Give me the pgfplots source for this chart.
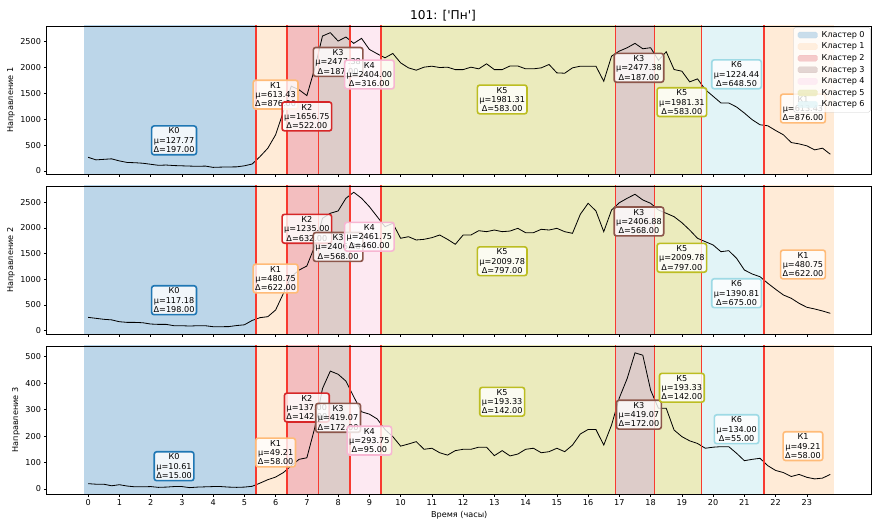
\documentclass[border=0pt]{standalone}
\usepackage{fontspec}
\setmainfont{DejaVu Sans}
\usepackage{pgfplots}
\usepackage{pgfplotstable}
\pgfplotsset{compat=1.18}
\definecolor{c0}{HTML}{1F77B4}
\definecolor{c1}{HTML}{FFBB78}
\definecolor{c2}{HTML}{D62728}
\definecolor{c3}{HTML}{8C564B}
\definecolor{c4}{HTML}{F7B6D2}
\definecolor{c5}{HTML}{BCBD22}
\definecolor{c6}{HTML}{9EDAE5}
\definecolor{f0}{HTML}{BCD6E9}
\definecolor{f1}{HTML}{FFEBD7}
\definecolor{f2}{HTML}{F3BEBF}
\definecolor{f3}{HTML}{DDCCC9}
\definecolor{f4}{HTML}{FDE9F2}
\definecolor{f5}{HTML}{EBEBBD}
\definecolor{f6}{HTML}{E2F4F7}
\definecolor{vline}{HTML}{F83A30}

\pgfplotstableread{
h a b c
0.00 265 260 20
0.25 215 241 18
0.50 225 222 18
0.75 235 211 12
1.00 195 175 16
1.25 165 162 11
1.50 160 162 8
1.75 150 155 8
2.00 130 130 9
2.25 110 123 6
2.50 115 123 7
2.75 105 97 9
3.00 100 97 9
3.25 95 91 5
3.50 90 97 7
3.75 95 97 8
4.00 70 78 9
4.25 75 78 9
4.50 78 80 7
4.75 80 100 6
5.00 100 115 7
5.25 135 200 10
5.50 278 254 22
5.75 440 273 35
6.00 700 403 45
6.25 1150 727 62
6.50 1640 1050 88
6.75 1570 1180 112
7.00 1457 1260 118
7.25 1979 1640 230
7.50 2609 2188 380
7.75 2674 2286 446
8.00 2512 2331 434
8.25 2590 2578 408
8.50 2467 2695 349
8.75 2564 2578 292
9.00 2350 2415 283
9.25 2266 2220 265
9.50 2188 2025 225
9.75 2272 2091 198
10.00 2091 1799 162
10.25 1994 1830 170
10.50 1949 1766 179
10.75 2007 1779 150
11.00 2026 1811 154
11.25 2000 1863 137
11.50 2007 1779 128
11.75 1960 1682 145
12.00 1960 1863 150
12.25 2007 1863 150
12.50 1975 1947 158
12.75 2072 1928 158
13.00 1960 1960 126
13.25 1960 1928 145
13.50 2030 1940 125
13.75 2030 1993 132
14.00 1975 1908 150
14.25 1975 1908 154
14.50 1994 1974 137
14.75 2059 1960 141
15.00 1897 1993 154
15.25 1890 1928 141
15.50 1994 1896 166
15.75 2026 2266 208
16.00 2026 2480 225
16.25 2026 2331 225
16.50 1735 1928 166
16.75 2220 2350 242
17.00 2318 2492 345
17.25 2383 2578 418
17.50 2467 2656 515
17.75 2363 2545 506
18.00 2383 2480 374
18.25 2140 2350 305
18.50 2305 2286 305
18.75 1962 2220 223
19.00 1929 2103 198
19.25 1723 1960 182
19.50 1781 1799 172
19.75 1573 1733 154
20.00 1444 1669 158
20.25 1315 1538 160
20.50 1315 1558 160
20.75 1237 1410 135
21.00 1120 1182 107
21.25 991 1104 112
21.50 894 1051 116
21.75 874 923 88
22.00 783 806 70
22.25 699 695 62
22.50 550 631 47
22.75 524 533 55
23.00 486 456 44
23.25 408 423 38
23.50 441 384 41
23.75 324 339 55
}\data

\pgfplotsset{
  panel/.style={
    scale only axis, width=1016.25pt, height=182.3pt,
    anchor=south west,
    xmin=-1.325, xmax=25.075,
    xtick={0,...,23},
    tick align=outside, tick pos=left,
    major tick length=3.5pt,
    tick style={black, line width=0.8pt},
    axis line style={line width=0.8pt},
    axis on top,
    /pgf/number format/assume math mode=true,
    /pgf/number format/1000 sep={},
    tick label style={font=\fontsize{10}{12}\selectfont},
    label style={font=\fontsize{10}{12}\selectfont},
  },
  clleg/.style={legend image code/.code={\draw[fill=#1, draw=#1] (0pt,-3.7pt) rectangle (24pt,3.7pt);}},
}
\tikzset{
  clbox/.style={draw=#1, line width=2pt, rounded corners=3pt, fill=white,
    fill opacity=0.8, text opacity=1, draw opacity=1, align=center,
    inner sep=2.5pt, font=\fontsize{10}{11.5}\selectfont},
}

\newcommand\spn[3]{\addplot[fill=#1, draw=none, forget plot] coordinates {(#2,-10000) (#3,-10000) (#3,10000) (#2,10000)} -- cycle;}
\newcommand\vl[1]{\addplot[vline, line width=2.2pt, forget plot] coordinates {(#1,-10000) (#1,10000)};}
\newcommand\backdrop[1]{%
  \spn{f0}{-0.125}{5.375}
  \spn{f1}{5.375}{6.375}
  \spn{f2}{6.375}{7.375}
  \spn{f3}{7.375}{8.375}
  \spn{f4}{8.375}{9.375}
  \spn{f5}{9.375}{16.875}
  \spn{f3}{16.875}{18.125}
  \spn{f5}{18.125}{19.625}
  \spn{f6}{19.625}{21.625}
  \spn{f1}{21.625}{23.875}
  \addplot[black, line width=1pt, forget plot] table[x=h, y=#1] {\data};
  \vl{5.375}\vl{6.375}\vl{7.375}\vl{8.375}\vl{9.375}
  \vl{16.875}\vl{18.125}\vl{19.625}\vl{21.625}
}
\newcommand\kb[6]{\node[clbox=#1] at (axis cs:#2,#3) {К#4\\μ=#5\\Δ=#6};}

\begin{document}
\begin{tikzpicture}
\useasboundingbox (0,0) rectangle (1084pt,650.4pt);

% Panel 1
\begin{axis}[panel, at={(57.53pt,436.06pt)},
  ymin=-58, ymax=2803, ytick={0,500,...,2500},
  xticklabels={},
  ylabel={Направление 1},
  legend style={at={(rel axis cs:1,1)}, anchor=north east, xshift=-1.5pt, yshift=-1.5pt,
    font=\fontsize{10}{12}\selectfont, fill=white, fill opacity=0.8, text opacity=1,
    draw=black!20, draw opacity=1, rounded corners=2pt, row sep=1.4pt,
    inner xsep=5pt, inner ysep=3pt,
    /tikz/every odd column/.append style={column sep=3pt}},
  legend cell align=left,
]
\backdrop{a}
\kb{c0}{2.75}{592}{0}{127.77}{197.00}
\kb{c1}{6.0}{1476}{1}{613.43}{876.00}
\kb{c2}{7.0}{1055}{2}{1656.75}{522.00}
\kb{c3}{8.0}{2108}{3}{2477.38}{187.00}
\kb{c4}{9.0}{1865}{4}{2404.00}{316.00}
\kb{c5}{13.25}{1383}{5}{1981.31}{583.00}
\kb{c3}{17.625}{1995}{3}{2477.38}{187.00}
\kb{c5}{19.0}{1331}{5}{1981.31}{583.00}
\kb{c6}{20.75}{1869}{6}{1224.44}{648.50}
\kb{c1}{22.875}{1208}{1}{613.43}{876.00}
\addlegendimage{clleg=f0}\addlegendentry{Кластер 0}
\addlegendimage{clleg=f1}\addlegendentry{Кластер 1}
\addlegendimage{clleg=f2}\addlegendentry{Кластер 2}
\addlegendimage{clleg=f3}\addlegendentry{Кластер 3}
\addlegendimage{clleg=f4}\addlegendentry{Кластер 4}
\addlegendimage{clleg=f5}\addlegendentry{Кластер 5}
\addlegendimage{clleg=f6}\addlegendentry{Кластер 6}
\end{axis}

% Panel 2
\begin{axis}[panel, at={(57.53pt,238.97pt)},
  ymin=-64, ymax=2817, ytick={0,500,...,2500},
  xticklabels={},
  ylabel={Направление 2},
]
\backdrop{b}
\kb{c0}{2.75}{594}{0}{117.18}{198.00}
\kb{c1}{6.0}{1016}{1}{480.75}{622.00}
\kb{c2}{7.0}{1984}{2}{1235.00}{632.00}
\kb{c3}{8.0}{1630}{3}{2406.88}{568.00}
\kb{c4}{9.0}{1830}{4}{2461.75}{460.00}
\kb{c5}{13.25}{1353}{5}{2009.78}{797.00}
\kb{c3}{17.625}{2126}{3}{2406.88}{568.00}
\kb{c5}{19.0}{1419}{5}{2009.78}{797.00}
\kb{c6}{20.75}{730}{6}{1390.81}{675.00}
\kb{c1}{22.875}{1289}{1}{480.75}{622.00}
\end{axis}

% Panel 3
\begin{axis}[panel, at={(57.53pt,41.88pt)},
  ymin=-19, ymax=541, ytick={0,100,...,500},
  ylabel={Направление 3},
  xlabel={Время (часы)},
]
\backdrop{c}
\kb{c0}{2.75}{86}{0}{10.61}{15.00}
\kb{c1}{6.0}{138}{1}{49.21}{58.00}
\kb{c2}{7.0}{308}{2}{137.00}{142.00}
\kb{c3}{8.0}{269}{3}{419.07}{172.00}
\kb{c4}{9.0}{183}{4}{293.75}{95.00}
\kb{c5}{13.25}{330}{5}{193.33}{142.00}
\kb{c3}{17.625}{281}{3}{419.07}{172.00}
\kb{c5}{19.0}{383}{5}{193.33}{142.00}
\kb{c6}{20.75}{226}{6}{134.00}{55.00}
\kb{c1}{22.875}{162}{1}{49.21}{58.00}
\end{axis}

\node[font=\fontsize{15}{18}\selectfont] at (545.7pt,631.6pt) {101: [\textquotesingle Пн\textquotesingle]};
\end{tikzpicture}
\end{document}
